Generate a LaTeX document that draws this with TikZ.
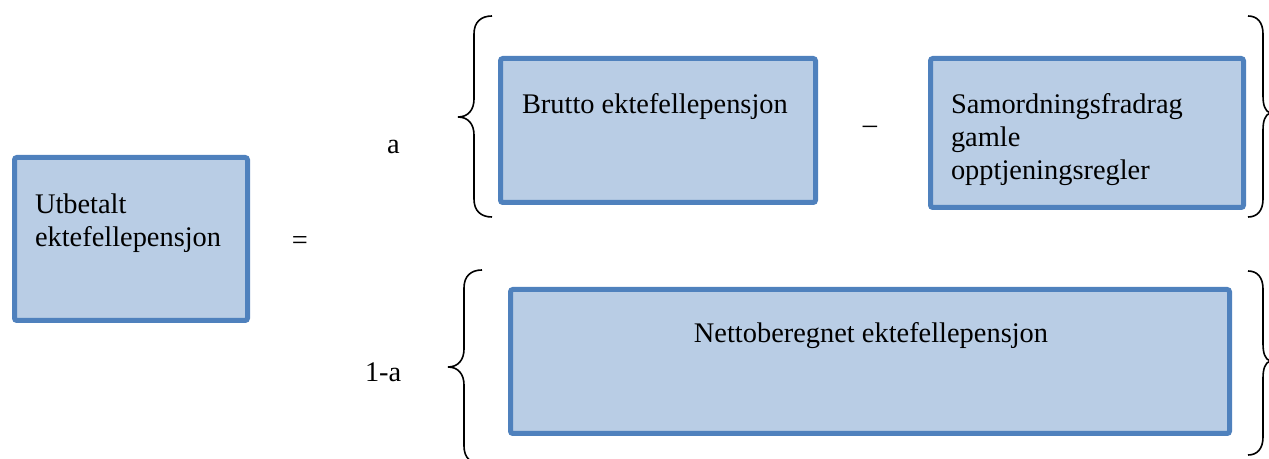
\documentclass[tikz,border=0pt]{standalone}
\usepackage{fontspec}
\setmainfont{Liberation Serif}
\definecolor{boxline}{HTML}{4F81BD}
\definecolor{boxfill}{HTML}{B9CDE5}
\begin{document}
\begin{tikzpicture}[x=0.5pt,y=-0.5pt,
  box/.style={draw=boxline, fill=boxfill, line width=2.5pt, rounded corners=1.2pt, inner sep=0pt},
  txt/.style={inner sep=0pt, outer sep=0pt, align=left, font=\fontsize{14.2}{16.5}\selectfont},
  bracepath/.style={draw=black, line width=0.8pt}]
\useasboundingbox (0,0) rectangle (1269,459);
% boxes
\node[box, minimum width=116.5pt, minimum height=81.5pt] (utb) at (131,239) {};
\node[box, minimum width=157.5pt, minimum height=72pt] (brutto) at (658,130.5) {};
\node[box, minimum width=156.5pt, minimum height=74.5pt] (samord) at (1087,133) {};
\node[box, minimum width=359.5pt, minimum height=72pt] (netto) at (870,361.5) {};
% texts
\node[txt, anchor=north west] (tutb) at (35,193.5) {Utbetalt\\ektefellepensjon};
\node[txt, anchor=north west] (tbrutto) at (522,93.5) {Brutto ektefellepensjon};
\node[txt, anchor=north west] (tsamord) at (951,93.5) {Samordningsfradrag\\gamle\\opptjeningsregler};
\node[txt, anchor=base] (tnetto) at (871,343) {Nettoberegnet ektefellepensjon};
\node[txt, anchor=base west] (ta) at (387,154) {a};
\node[txt, anchor=base west] (t1a) at (365,382) {1-a};
\node[txt] (teq) at (300,243) {=};
\node[txt] (tminus) at (870,130) {–};
% braces
\draw[bracepath] (492,16) .. controls (481,16) and (474,22) .. (474,34) -- (474,99)
  .. controls (474,110) and (468,117) .. (458,117)
  .. controls (468,117) and (474,124) .. (474,135) -- (474,199)
  .. controls (474,211) and (481,217) .. (492,217);
\draw[bracepath] (1248,16) .. controls (1257,16) and (1263,22) .. (1263,34) -- (1263,96)
  .. controls (1263,105) and (1265,111) .. (1270,113)
  .. controls (1265,115) and (1263,121) .. (1263,130) -- (1263,199)
  .. controls (1263,211) and (1257,217) .. (1248,217);
\draw[bracepath] (482,270) .. controls (471,270) and (464,276) .. (464,288) -- (464,349)
  .. controls (464,360) and (458,367) .. (448,367)
  .. controls (458,367) and (464,374) .. (464,385) -- (464,446)
  .. controls (464,458) and (471,464) .. (482,464);
\draw[bracepath] (1248,271) .. controls (1257,271) and (1263,277) .. (1263,289) -- (1263,344)
  .. controls (1263,353) and (1265,359) .. (1270,361)
  .. controls (1265,363) and (1263,369) .. (1263,378) -- (1263,437)
  .. controls (1263,449) and (1257,455) .. (1248,455);
\end{tikzpicture}
\end{document}
